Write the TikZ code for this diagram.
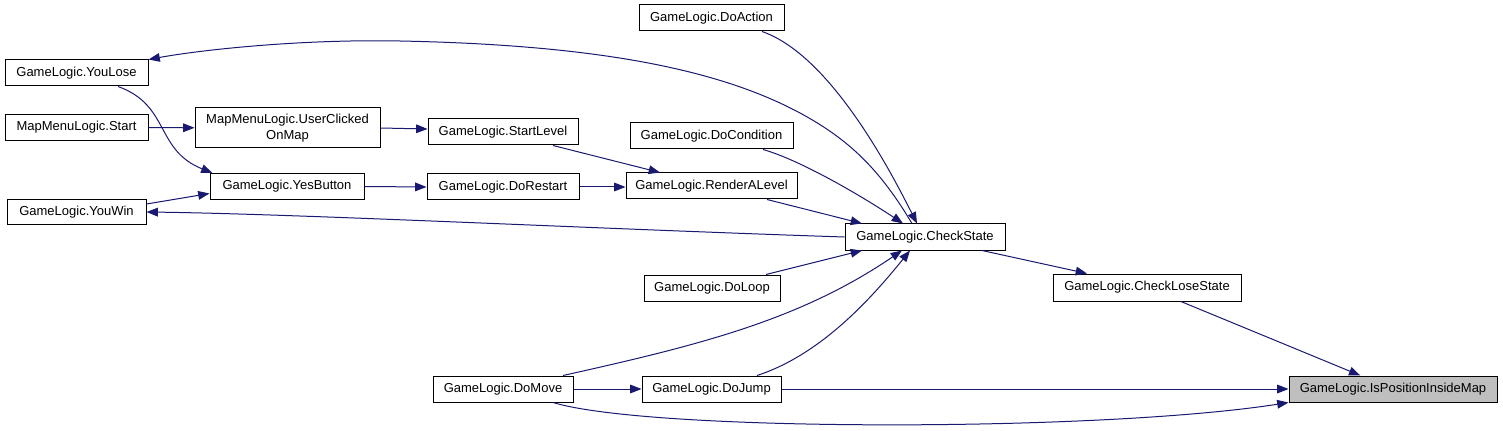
\documentclass[tikz,border=0pt]{standalone}
\usepackage{fontspec}
\setmainfont{Liberation Sans}
\usetikzlibrary{arrows.meta,calc}
\definecolor{edgeblue}{RGB}{25,25,112}
\definecolor{boxgray}{RGB}{191,191,191}
\tikzset{
  box/.style={draw=black, line width=0.75pt, inner sep=0pt, align=center,
    font=\fontsize{9.75}{11.5}\selectfont, minimum height={26*0.75pt}},
  call/.style={draw=edgeblue, line width=0.75pt,
    -{Triangle[length=8.5pt,width=6.5pt,fill=edgeblue]}},
}
\begin{document}
\begin{tikzpicture}[x=0.75pt,y=-0.75pt]
\useasboundingbox (0,0) rectangle (1503,431);
\node[box, minimum width={145*0.75pt}] (doaction) at (711.5,18) {GameLogic.DoAction};
\node[box, minimum width={143*0.75pt}] (youlose) at (76.5,73) {GameLogic.YouLose};
\node[box, minimum width={143*0.75pt}] (mmstart) at (76.5,127.5) {MapMenuLogic.Start};
\node[box, minimum width={185*0.75pt}, minimum height={40*0.75pt}] (ucom) at (287.5,128) {MapMenuLogic.UserClicked\\OnMap};
\node[box, minimum width={154*0.75pt}] (yes) at (287,186.5) {GameLogic.YesButton};
\node[box, minimum width={139*0.75pt}, minimum height={25*0.75pt}] (youwin) at (76.5,212) {GameLogic.YouWin};
\node[box, minimum width={150*0.75pt}] (startlevel) at (503,132) {GameLogic.StartLevel};
\node[box, minimum width={152*0.75pt}] (restart) at (503,187) {GameLogic.DoRestart};
\node[box, minimum width={163*0.75pt}] (docond) at (711.5,136) {GameLogic.DoCondition};
\node[box, minimum width={171*0.75pt}] (render) at (711.5,186) {GameLogic.RenderALevel};
\node[box, minimum width={160*0.75pt}] (cs) at (925,237) {GameLogic.CheckState};
\node[box, minimum width={136*0.75pt}] (doloop) at (712,288) {GameLogic.DoLoop};
\node[box, minimum width={140*0.75pt}] (domove) at (503,389) {GameLogic.DoMove};
\node[box, minimum width={139*0.75pt}] (dojump) at (711.5,389) {GameLogic.DoJump};
\node[box, minimum width={188*0.75pt}, minimum height={27*0.75pt}] (cls) at (1147,287.5) {GameLogic.CheckLoseState};
\node[box, fill=boxgray, minimum width={208*0.75pt}] (ispos) at (1393,389) {GameLogic.IsPositionInsideMap};

\draw[call] (cls) -- (ispos);
\draw[call] (dojump) -- (ispos);
\draw[call] ($(domove.south)+(50,0)$) .. controls (650,432) and (1100,432) .. (ispos.south west);
\draw[call] ($(cs.south)+(57,0)$) -- ($(cls.north)+(-60,0)$);
\draw[call] ($(doaction.south)+(50.5,0)$) .. controls (830,55) and (890,170) .. ($(cs.north)+(-8,0)$);
\draw[call] ($(cs.north)+(-13,0)$) .. controls (880,170) and (850,140) .. (800,113)
  .. controls (720,70) and (600,45) .. (400,41) .. controls (300,39) and (200,50) .. (youlose.north east);
\draw[call] ($(docond.south)+(51.5,0)$) .. controls (800,160) and (860,195) .. ($(cs.north)+(-22,0)$);
\draw[call] ($(render.south)+(55.5,0)$) -- ($(cs.north)+(-63,0)$);
\draw[call] (cs.west) .. controls (600,229) and (300,214) .. (youwin.east);
\draw[call] ($(doloop.north)+(54,0)$) -- ($(cs.south)+(-63,0)$);
\draw[call] ($(domove.north)+(60,0)$) .. controls (700,345) and (800,320) .. ($(cs.south)+(-23,0)$);
\draw[call] ($(dojump.north)+(45.5,0)$) .. controls (820,355) and (870,300) .. ($(cs.south)+(-15,0)$);
\draw[call] ($(startlevel.south)+(50,0)$) -- ($(render.north)+(-51.5,0)$);
\draw[call] (restart.east) -- (render.west |- restart.east);
\draw[call] (yes.east) -- (restart.west);
\draw[call] (ucom.east) -- ($(startlevel.west)+(0,-3)$);
\draw[call] (mmstart) -- (ucom);
\draw[call] ($(youlose.south)+(41.5,0)$) .. controls (170,105) and (155,150) .. ($(yes.north west)+(3,0)$);
\draw[call] ($(youwin.east)+(0,-8)$) -- ($(yes.west)+(0,7)$);
\draw[call] (domove) -- (dojump);
\end{tikzpicture}
\end{document}
